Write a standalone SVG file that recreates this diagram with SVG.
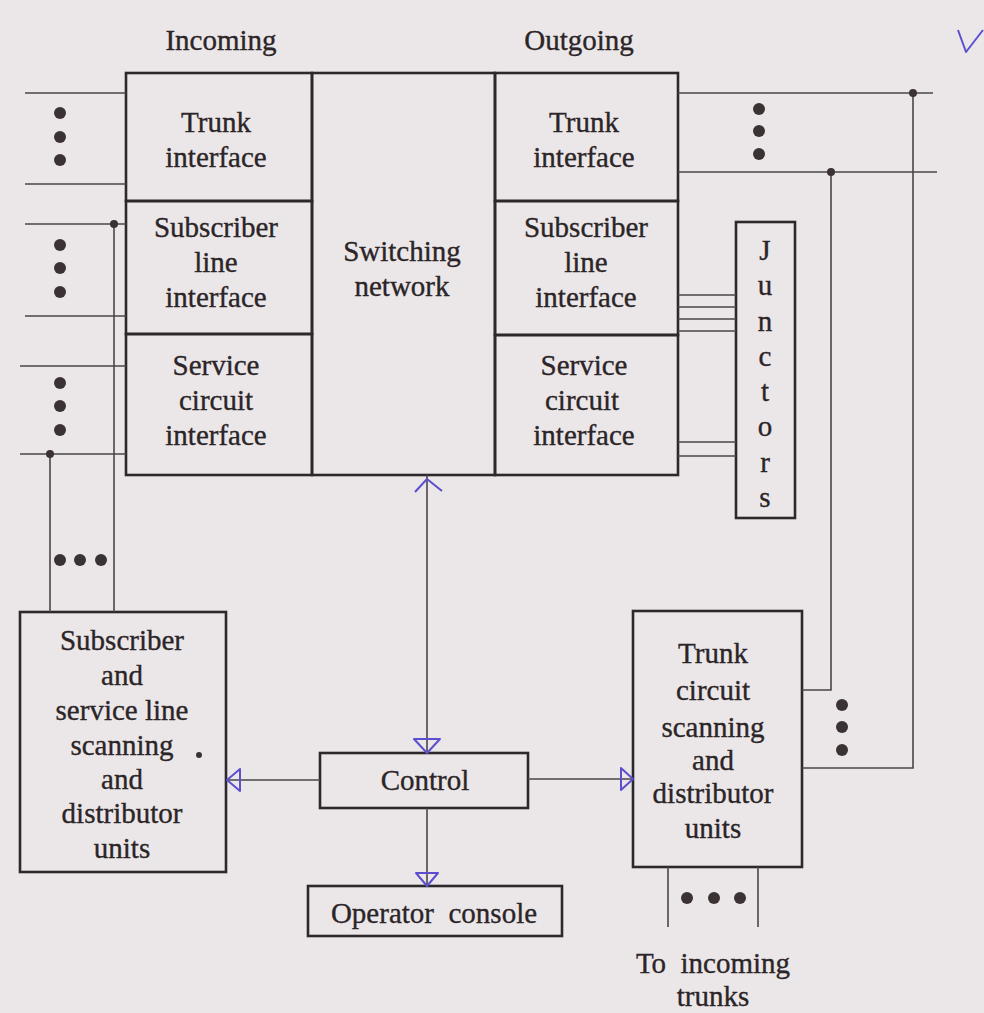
<svg xmlns="http://www.w3.org/2000/svg" width="984" height="1013" viewBox="0 0 984 1013">
  <style>
    .box{fill:none;stroke:#2d292b;stroke-width:2.6}
    .wire{stroke:#4b4547;stroke-width:1.6;fill:none}
    .lbl{font-family:"Liberation Serif","Times New Roman",serif;font-size:29px;fill:#2b2527;stroke:#2b2527;stroke-width:0.35;text-anchor:middle}
    .dot{fill:#3b3234}
    .jn{fill:#3b3234}
    .hand{stroke:#5b4fd0;stroke-width:2;fill:none;stroke-linejoin:round}
  </style>
  <rect width="984" height="1013" fill="#ebe7e9"/>

  <!-- column headings -->
  <text class="lbl" x="221" y="50">Incoming</text>
  <text class="lbl" x="579" y="50">Outgoing</text>
  <path class="hand" d="M958,30 L966,52 L983,30"/>

  <!-- incoming side -->
  <g id="in-trunk">
    <rect class="box" x="126" y="73" width="186" height="128"/>
    <text class="lbl" x="216" y="132">Trunk</text>
    <text class="lbl" x="216" y="167">interface</text>
  </g>
  <g id="in-subscriber">
    <rect class="box" x="126" y="201" width="186" height="133"/>
    <text class="lbl" x="216" y="237">Subscriber</text>
    <text class="lbl" x="216" y="272">line</text>
    <text class="lbl" x="216" y="307">interface</text>
  </g>
  <g id="in-service">
    <rect class="box" x="126" y="334" width="186" height="141"/>
    <text class="lbl" x="216" y="375">Service</text>
    <text class="lbl" x="216" y="410">circuit</text>
    <text class="lbl" x="216" y="445">interface</text>
  </g>

  <!-- switching network -->
  <g id="switching-network">
    <rect class="box" x="312" y="73" width="183" height="402"/>
    <text class="lbl" x="402" y="261">Switching</text>
    <text class="lbl" x="402" y="296">network</text>
  </g>

  <!-- outgoing side -->
  <g id="out-trunk">
    <rect class="box" x="495" y="73" width="183" height="128"/>
    <text class="lbl" x="584" y="132">Trunk</text>
    <text class="lbl" x="584" y="167">interface</text>
  </g>
  <g id="out-subscriber">
    <rect class="box" x="495" y="201" width="183" height="134"/>
    <text class="lbl" x="586" y="237">Subscriber</text>
    <text class="lbl" x="586" y="272">line</text>
    <text class="lbl" x="586" y="307">interface</text>
  </g>
  <g id="out-service">
    <rect class="box" x="495" y="335" width="183" height="140"/>
    <text class="lbl" x="584" y="375">Service</text>
    <text class="lbl" x="582" y="410">circuit</text>
    <text class="lbl" x="584" y="445">interface</text>
  </g>

  <!-- junctors -->
  <g id="junctors">
    <rect class="box" x="736" y="222" width="59" height="296"/>
    <text class="lbl" x="765" y="260">J</text>
    <text class="lbl" x="765" y="295">u</text>
    <text class="lbl" x="765" y="331">n</text>
    <text class="lbl" x="765" y="366">c</text>
    <text class="lbl" x="765" y="401">t</text>
    <text class="lbl" x="765" y="436">o</text>
    <text class="lbl" x="765" y="472">r</text>
    <text class="lbl" x="765" y="507">s</text>
  </g>

  <!-- scanning units -->
  <g id="subscriber-scanning">
    <rect class="box" x="20" y="612" width="206" height="260"/>
    <text class="lbl" x="122" y="650">Subscriber</text>
    <text class="lbl" x="122" y="685">and</text>
    <text class="lbl" x="122" y="720">service line</text>
    <text class="lbl" x="122" y="755">scanning</text>
    <text class="lbl" x="122" y="789">and</text>
    <text class="lbl" x="122" y="823">distributor</text>
    <text class="lbl" x="122" y="858">units</text>
    <circle class="dot" cx="199" cy="755" r="3"/>
  </g>
  <g id="trunk-scanning">
    <rect class="box" x="633" y="611" width="169" height="256"/>
    <text class="lbl" x="713" y="663">Trunk</text>
    <text class="lbl" x="713" y="700">circuit</text>
    <text class="lbl" x="713" y="737">scanning</text>
    <text class="lbl" x="713" y="770">and</text>
    <text class="lbl" x="713" y="803">distributor</text>
    <text class="lbl" x="713" y="838">units</text>
  </g>

  <!-- control and console -->
  <g id="control">
    <rect class="box" x="320" y="753" width="208" height="55"/>
    <text class="lbl" x="425" y="790">Control</text>
  </g>
  <g id="operator-console">
    <rect class="box" x="308" y="886" width="254" height="50"/>
    <text class="lbl" x="434" y="923" xml:space="preserve">Operator  console</text>
  </g>

  <text class="lbl" x="713" y="973" xml:space="preserve">To  incoming</text>
  <text class="lbl" x="713" y="1006">trunks</text>

  <!-- connectors -->
  <g id="connectors">
    <!-- incoming lines -->
    <path class="wire" d="M25,93H126 M25,184H126 M25,224H126 M25,316H126 M20,366H126 M20,454H126"/>
    <path class="wire" d="M114,224V612 M50,454V612"/>
    <circle class="jn" cx="114" cy="224" r="4"/>
    <circle class="jn" cx="50" cy="454" r="4"/>
    <!-- outgoing trunks -->
    <path class="wire" d="M678,93H933 M678,172H937"/>
    <path class="wire" d="M913,93V768H802 M831,172V690H802"/>
    <circle class="jn" cx="913" cy="93" r="4"/>
    <circle class="jn" cx="831" cy="172" r="4"/>
    <!-- junctor links -->
    <path class="wire" d="M678,295H736 M678,307H736 M678,319H736 M678,331H736 M678,442H736 M678,456H736"/>
    <!-- control links -->
    <path class="wire" d="M427,475V753 M427,808V886 M226,780H320 M528,779H633"/>
    <!-- to incoming trunks -->
    <path class="wire" d="M668,867V927 M758,867V927"/>

    <!-- arrowheads -->
    <path class="hand" d="M415,492 L427,479 L442,491"/>
    <path class="hand" d="M414,739 L440,739 L427,753 Z"/>
    <path class="hand" d="M416,873 L438,873 L427,886 Z"/>
    <path class="hand" d="M240,769 L240,791 L227,780 Z"/>
    <path class="hand" d="M621,768 L621,790 L633,779 Z"/>
  </g>

  <!-- ellipsis dots -->
  <g id="dots">
    <circle class="dot" cx="60" cy="113" r="6"/>
    <circle class="dot" cx="60" cy="137" r="6"/>
    <circle class="dot" cx="60" cy="160" r="6"/>
    <circle class="dot" cx="60" cy="245" r="6"/>
    <circle class="dot" cx="60" cy="268" r="6"/>
    <circle class="dot" cx="60" cy="292" r="6"/>
    <circle class="dot" cx="60" cy="383" r="6"/>
    <circle class="dot" cx="60" cy="406" r="6"/>
    <circle class="dot" cx="60" cy="430" r="6"/>
    <circle class="dot" cx="759" cy="109" r="6"/>
    <circle class="dot" cx="759" cy="131" r="6"/>
    <circle class="dot" cx="759" cy="154" r="6"/>
    <circle class="dot" cx="842" cy="705" r="6"/>
    <circle class="dot" cx="842" cy="727" r="6"/>
    <circle class="dot" cx="842" cy="750" r="6"/>
    <circle class="dot" cx="687" cy="898" r="6"/>
    <circle class="dot" cx="714" cy="898" r="6"/>
    <circle class="dot" cx="740" cy="898" r="6"/>
    <circle class="dot" cx="60" cy="560" r="6"/>
    <circle class="dot" cx="80" cy="560" r="6"/>
    <circle class="dot" cx="101" cy="560" r="6"/>
  </g>
</svg>
